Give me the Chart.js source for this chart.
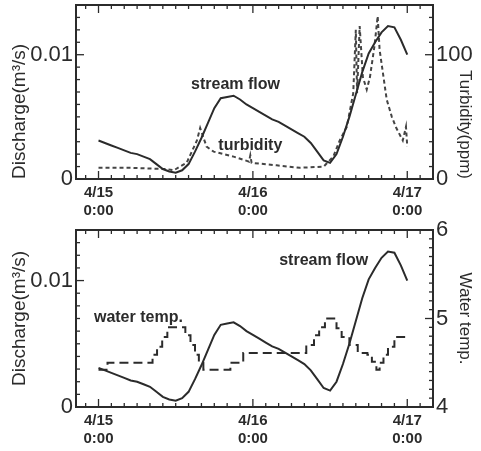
<!DOCTYPE html>
<html>
<head>
<meta charset="utf-8">
<script src="https://cdn.jsdelivr.net/npm/chart.js@4"></script>
<style>
  html, body { margin: 0; padding: 0; background: #fff; }
  #wrap { position: relative; width: 481px; height: 451px; }
  canvas { position: absolute; left: 0; }
</style>
</head>
<body>
<div id="wrap">
  <canvas id="topChart" width="481" height="225" style="top:0"></canvas>
  <canvas id="bottomChart" width="481" height="236" style="top:215px"></canvas>
</div>
<script>
// hours since 4/15 0:00
const flowHours = [0, 1, 2, 3, 4, 5, 6, 7, 8, 9, 10, 11, 12, 13, 14, 15, 16, 17, 18, 19, 20, 21, 22, 23, 24,
  25, 26, 27, 28, 29, 30, 31, 32, 33, 34, 35, 36, 37, 38, 39, 40, 41, 42, 43, 44, 45, 46, 47, 48];
const flowValues = [0.0031, 0.0029, 0.0027, 0.0025, 0.0023, 0.0021, 0.0020, 0.0018, 0.0016, 0.0012, 0.0008,
  0.0006, 0.0005, 0.0007, 0.0012, 0.0022, 0.0033, 0.0045, 0.0057, 0.0065, 0.0066, 0.0067, 0.0064, 0.0060,
  0.0057, 0.0054, 0.0051, 0.0048, 0.0046, 0.0043, 0.0040, 0.0037, 0.0034, 0.0029, 0.0022, 0.0015, 0.0013,
  0.0020, 0.0034, 0.0050, 0.0068, 0.0086, 0.0101, 0.0110, 0.0118, 0.0123, 0.0122, 0.0112, 0.0100];

const turbHours = [0, 5, 10.6, 11.7, 13.7, 15.3, 15.8, 16.8, 17.9, 21, 23.4, 23.6, 23.8, 27.7, 31.3, 35, 36.5,
  37.5, 38.6, 39.6, 40, 40.2, 40.6, 41.1, 41.7, 42.2, 42.9, 43.4, 43.7, 44.8, 45.6, 46.3, 47.3, 47.8, 48];
const turbValues = [9, 9, 8, 7, 13, 31, 41, 26, 22, 18, 14, 19, 13, 11, 9, 10, 18,
  31, 42, 69, 120, 69, 123, 82, 72, 82, 107, 131, 104, 64, 50, 41, 31, 42, 26];

const tempHours = [0, 1.4, 8.4, 9.1, 9.9, 10.7, 13.5, 14.3, 15.0, 15.6, 16.3, 20.5, 22.5, 32.3, 33.5, 34.3,
  35.2, 37.0, 37.8, 39.0, 40.3, 41.8, 42.5, 43.2, 43.7, 44.3, 45.0, 46.0, 48.0];
const tempValues = [4.42, 4.5, 4.59, 4.68, 4.79, 4.9, 4.81, 4.7, 4.59, 4.5, 4.42, 4.5, 4.61, 4.7, 4.81, 4.9,
  5.0, 4.89, 4.79, 4.7, 4.61, 4.59, 4.51, 4.42, 4.5, 4.59, 4.68, 4.79, 4.79];

const dayTicks = [0, 24, 48];
const dayLabels = [['4/15', '0:00'], ['4/16', '0:00'], ['4/17', '0:00']];
const flowTicks = [0, 0.01];
const flowTickLabels = ['0', '0.01'];
const turbTicks = [0, 100];
const tempTicks = [4, 5, 6];

const ink = '#2b2b2b';
const fontFamily = '"Liberation Sans", Arial, Helvetica, sans-serif';

function pts(xs, ys) {
  return xs.map((x, i) => ({ x: x, y: ys[i] }));
}

// box with inward ticks + text notes
const framePlugin = {
  id: 'frame',
  afterDatasetsDraw(chart, args, opts) {
    const ctx = chart.ctx;
    const a = chart.chartArea;
    const sx = chart.scales.x, sy = chart.scales.y, sr = chart.scales.y2;
    function seg(x1, y1, x2, y2) {
      ctx.beginPath(); ctx.moveTo(x1, y1); ctx.lineTo(x2, y2); ctx.stroke();
    }
    ctx.save();
    ctx.strokeStyle = ink;
    ctx.lineWidth = 1.3;
    // x ticks every 2 hours
    for (let i = -1; i <= 26; i++) {
      const h = i * 2;
      const px = sx.getPixelForValue(h);
      if (px <= a.left + 1 || px >= a.right - 1) continue;
      const len = h % 24 === 0 ? 8 : 4;
      seg(px, a.top, px, a.top + len);
      seg(px, a.bottom, px, a.bottom - len);
    }
    // left ticks every 0.001
    for (let i = 1; i < 14; i++) {
      const py = sy.getPixelForValue(i * 0.001);
      const len = i === 10 ? 8 : 4;
      seg(a.left, py, a.left + len, py);
    }
    // right ticks
    const n = opts.rightCount;
    for (let i = 1; i < n; i++) {
      const v = sr.min + i * opts.rightStep;
      const py = sr.getPixelForValue(v);
      const len = (i % opts.rightMajor === 0) ? 8 : 4;
      seg(a.right, py, a.right - len, py);
    }
    ctx.lineWidth = 2;
    ctx.strokeRect(a.left, a.top, a.right - a.left, a.bottom - a.top);
    // notes
    ctx.fillStyle = ink;
    ctx.font = 'bold 16px ' + fontFamily;
    ctx.textAlign = 'center';
    ctx.textBaseline = 'middle';
    opts.notes.forEach(n => {
      ctx.fillText(n.text, sx.getPixelForValue(n.x), sy.getPixelForValue(n.y));
    });
    ctx.restore();
  }
};

function makeChart(id, datasets, right, notes, xHeight, leftAlign, padTop) {
  return new Chart(document.getElementById(id), {
    type: 'line',
    data: { datasets: datasets },
    plugins: [framePlugin],
    options: {
      responsive: false,
      animation: false,
      devicePixelRatio: 1,
      layout: { padding: { top: padTop, left: 0, right: 0, bottom: 0 } },
      elements: { point: { radius: 0 }, line: { tension: 0, borderWidth: 2 } },
      plugins: {
        legend: { display: false },
        tooltip: { enabled: false },
        frame: { notes: notes, rightStep: right.step, rightCount: right.count, rightMajor: right.major }
      },
      scales: {
        x: {
          type: 'linear',
          min: -3.5,
          max: 52,
          afterBuildTicks: s => { s.ticks = dayTicks.map(v => ({ value: v })); },
          afterFit: s => { s.height = xHeight; s.paddingLeft = 0; s.paddingRight = 0; },
          grid: { display: false, drawTicks: false },
          border: { display: false },
          ticks: {
            padding: 4,
            color: ink,
            maxRotation: 0,
            font: { family: fontFamily, size: 15, weight: 'bold', lineHeight: 1.25 },
            callback: (v) => dayLabels[dayTicks.indexOf(v)]
          }
        },
        y: {
          position: 'left',
          min: 0,
          max: 0.014,
          afterBuildTicks: s => { s.ticks = flowTicks.map(v => ({ value: v })); },
          afterFit: s => { s.width = 76; s.paddingTop = 0; s.paddingBottom = 0; },
          grid: { display: false, drawTicks: false },
          border: { display: false },
          ticks: {
            padding: 3,
            color: ink,
            font: { family: fontFamily, size: 22 },
            callback: (v) => flowTickLabels[flowTicks.indexOf(v)]
          },
          title: {
            display: true,
            text: 'Discharge(m³/s)',
            color: ink,
            align: leftAlign,
            padding: { top: 8, bottom: 0 },
            font: { family: fontFamily, size: 19 }
          }
        },
        y2: {
          position: 'right',
          min: right.min,
          max: right.max,
          afterBuildTicks: s => { s.ticks = right.ticks.map(v => ({ value: v })); },
          afterFit: s => { s.width = 48; s.paddingTop = 0; s.paddingBottom = 0; },
          grid: { display: false, drawTicks: false },
          border: { display: false },
          ticks: {
            padding: 3,
            color: ink,
            font: { family: fontFamily, size: 22 },
            callback: (v) => String(v)
          },
          title: {
            display: true,
            text: right.title,
            color: ink,
            align: right.align,
            padding: { top: 6, bottom: 0 },
            font: { family: fontFamily, size: 17 }
          }
        }
      }
    }
  });
}

makeChart('topChart', [
  {
    label: 'stream flow',
    data: pts(flowHours, flowValues),
    yAxisID: 'y',
    borderColor: ink,
    borderWidth: 2
  },
  {
    label: 'turbidity',
    data: pts(turbHours, turbValues),
    yAxisID: 'y2',
    borderColor: '#444',
    borderWidth: 2,
    borderDash: [4, 3]
  }
], {
  min: 0, max: 140, ticks: turbTicks, title: 'Turbidity(ppm)', step: 10, count: 14, major: 10, align: 'start'
}, [
  { text: 'stream flow', x: 21.3, y: 0.0076 },
  { text: 'turbidity', x: 23.6, y: 0.0027 }
], 46, 'start', 5);

makeChart('bottomChart', [
  {
    label: 'stream flow',
    data: pts(flowHours, flowValues),
    yAxisID: 'y',
    borderColor: ink,
    borderWidth: 2
  },
  {
    label: 'water temp.',
    data: pts(tempHours, tempValues),
    yAxisID: 'y2',
    borderColor: ink,
    borderWidth: 2,
    borderDash: [9, 5],
    stepped: 'before'
  }
], {
  min: 4, max: 6, ticks: tempTicks, title: 'Water temp.', step: 0.1, count: 20, major: 10, align: 'center'
}, [
  { text: 'water temp.', x: 6.2, y: 0.0071 },
  { text: 'stream flow', x: 35, y: 0.0116 }
], 44, 'center', 15);
</script>
</body>
</html>
